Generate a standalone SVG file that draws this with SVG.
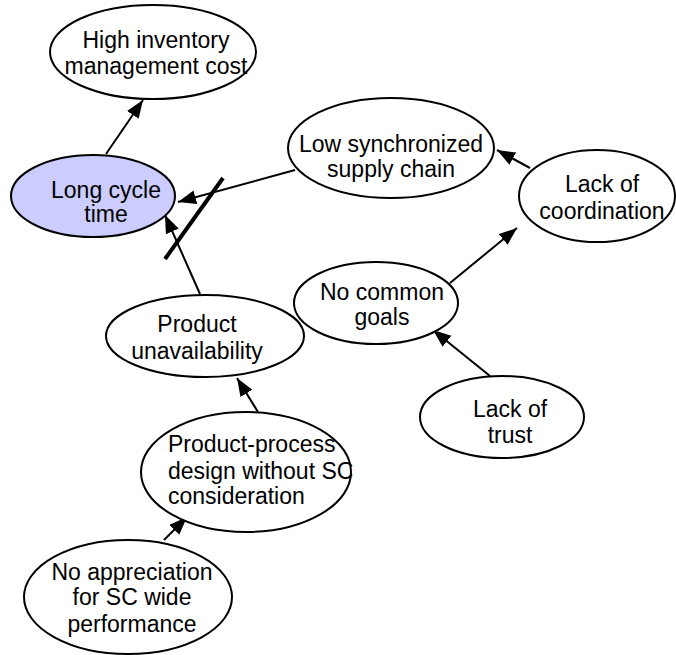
<svg xmlns="http://www.w3.org/2000/svg" width="676" height="655" viewBox="0 0 676 655">
  <style>
    .node ellipse { fill: #ffffff; stroke: #000000; stroke-width: 2; }
    .node.focus ellipse { fill: #ccccff; }
    .node text { font-family: "Liberation Sans", Arial, sans-serif; font-size: 23px; fill: #000000; text-anchor: middle; }
    .node text.left { text-anchor: start; }
    .edges line { stroke: #000000; stroke-width: 2; marker-end: url(#arrow); }
    .edges line.bar { stroke-width: 4; marker-end: none; }
  </style>
  <defs>
    <marker id="arrow" markerUnits="userSpaceOnUse" markerWidth="20" markerHeight="16" refX="18" refY="7" orient="auto">
      <path d="M0,0 L18,7 L0,14 z" fill="#000000"/>
    </marker>
  </defs>

  <rect width="676" height="655" fill="#ffffff"/>

  <g class="edges">
    <line x1="106" y1="154" x2="143" y2="100"/>
    <line x1="295" y1="170" x2="178" y2="202"/>
    <line x1="200" y1="294" x2="165" y2="215"/>
    <line class="bar" x1="223" y1="178" x2="165" y2="259"/>
    <line x1="530" y1="168" x2="497" y2="150"/>
    <line x1="450" y1="283" x2="517" y2="228"/>
    <line x1="490" y1="376" x2="433" y2="330"/>
    <line x1="258" y1="412" x2="237" y2="378"/>
    <line x1="164" y1="540" x2="187" y2="517"/>
  </g>

  <g id="high-inventory-cost" class="node">
    <ellipse cx="153" cy="52" rx="103" ry="47"/>
    <text x="156" y="48">High inventory</text>
    <text x="156" y="74">management cost</text>
  </g>

  <g id="long-cycle-time" class="node focus">
    <ellipse cx="93" cy="196" rx="82" ry="41"/>
    <text x="106" y="198">Long cycle</text>
    <text x="106" y="222">time</text>
  </g>

  <g id="low-synchronized" class="node">
    <ellipse cx="391" cy="148" rx="103" ry="50"/>
    <text x="391" y="152">Low synchronized</text>
    <text x="391" y="177">supply chain</text>
  </g>

  <g id="lack-of-coordination" class="node">
    <ellipse cx="597" cy="196" rx="78" ry="46"/>
    <text x="602" y="192">Lack of</text>
    <text x="602" y="219">coordination</text>
  </g>

  <g id="no-common-goals" class="node">
    <ellipse cx="376" cy="303" rx="82" ry="41"/>
    <text x="382" y="300">No common</text>
    <text x="382" y="325">goals</text>
  </g>

  <g id="lack-of-trust" class="node">
    <ellipse cx="502" cy="417" rx="82" ry="41"/>
    <text x="510" y="417">Lack of</text>
    <text x="510" y="443">trust</text>
  </g>

  <g id="product-unavailability" class="node">
    <ellipse cx="205" cy="336" rx="99" ry="41"/>
    <text x="197" y="332">Product</text>
    <text x="197" y="359">unavailability</text>
  </g>

  <g id="product-process-design" class="node">
    <ellipse cx="246" cy="472" rx="105" ry="60"/>
    <text class="left" x="168" y="452">Product-process</text>
    <text class="left" x="168" y="479">design without SC</text>
    <text class="left" x="168" y="504">consideration</text>
  </g>

  <g id="no-appreciation" class="node">
    <ellipse cx="128" cy="597" rx="104" ry="57"/>
    <text x="132" y="580">No appreciation</text>
    <text x="132" y="605">for SC wide</text>
    <text x="132" y="632">performance</text>
  </g>
</svg>
